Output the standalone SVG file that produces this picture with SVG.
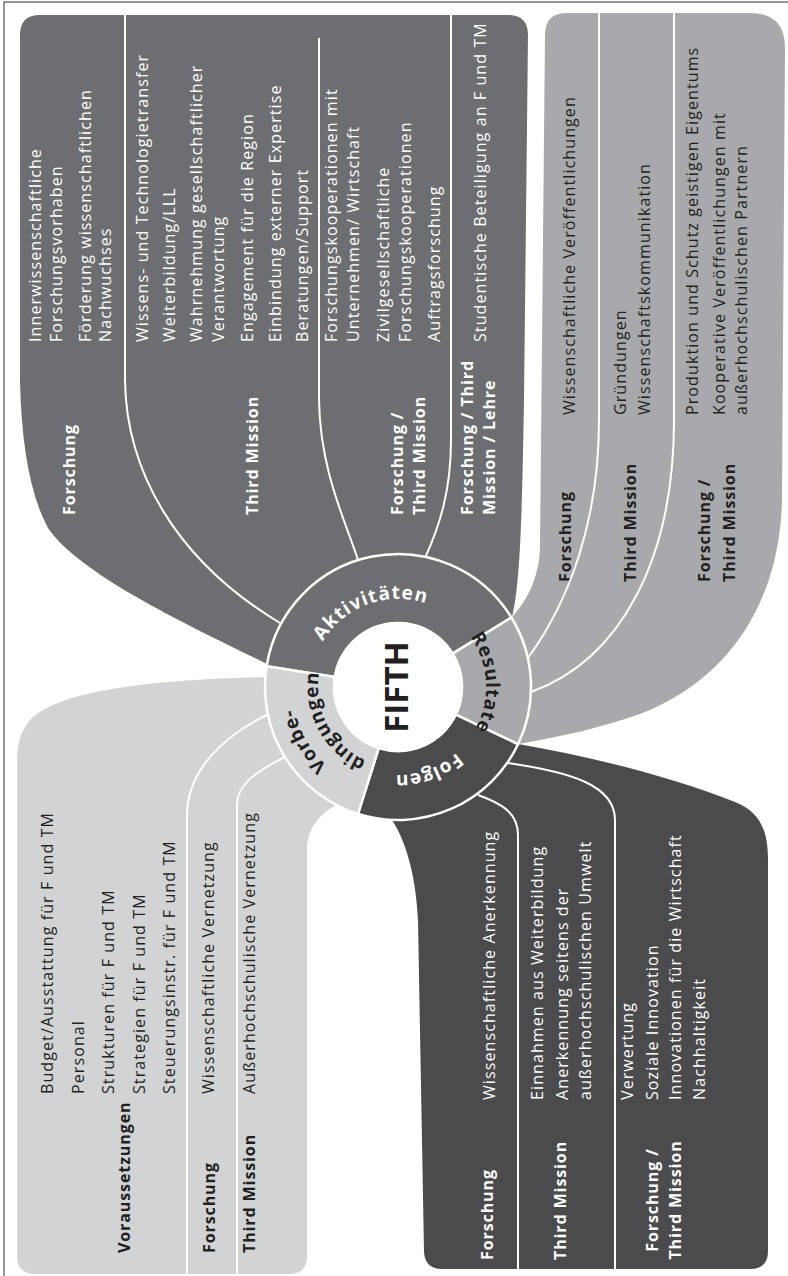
<svg xmlns="http://www.w3.org/2000/svg" width="788" height="1276" viewBox="0 0 788 1276">
<style>
.it{font-family:"Open Sans","Liberation Sans",sans-serif;font-size:16px;letter-spacing:1.1px}
.lb{font-family:"Open Sans","Liberation Sans",sans-serif;font-size:16px;font-weight:700;letter-spacing:0.9px}
.rl{font-family:"Open Sans","Liberation Sans",sans-serif;font-size:19px;font-weight:700;letter-spacing:0.8px}
.w{fill:#ffffff}
.d{fill:#231f20}
.dv{fill:none;stroke:#ffffff;stroke-width:2}
.ring{stroke:#ffffff;stroke-width:2.5;stroke-linejoin:round}
.akt{fill:#6d6e71}
.res{fill:#a7a9ac}
.fol{fill:#4b4b4d}
.vor{fill:#d1d3d4}
</style>
<defs>
<path id="pAkt" d="M 321.79,731 A 88 88 0 1 1 484.66,671.72"/>
<path id="pRes" d="M 378.20,601.26 A 88 88 0 1 1 387.28,774.34"/>
<path id="pFol" d="M 474.21,643 A 88 88 0 1 1 311.34,702.28"/>
<path id="pVo1" d="M 466.14,768.20 A 106 106 0 1 1 361.75,587.39"/>
<path id="pVo2" d="M 447.25,750.04 A 80 80 0 1 1 373.28,610.92"/>
</defs>
<rect x="4" y="2" width="800" height="1290" fill="none" stroke="#505050" stroke-width="1.2"/>

<g id="aktivitaeten">
<path class="akt" d="M 267,664 C 190,626 80,575 48,528 Q 22,480 20,380 L 20,35 Q 20,15 40,15 L 508,15 Q 528,15 528,35 L 524,400 C 522,520 520,585 512,617 L 398,687 Z"/>
<g transform="translate(0,1276) rotate(-90)">
<text class="it w" x="934" y="41">Innerwissenschaftliche</text>
<text class="it w" x="934" y="61.5">Forschungsvorhaben</text>
<text class="it w" x="934" y="91">Förderung wissenschaftlichen</text>
<text class="it w" x="934" y="110.5">Nachwuchses</text>
<text class="it w" x="934" y="148">Wissens- und Technologietransfer</text>
<text class="it w" x="934" y="175">Weiterbildung/LLL</text>
<text class="it w" x="934" y="201.5">Wahrnehmung gesellschaftlicher</text>
<text class="it w" x="934" y="224">Verantwortung</text>
<text class="it w" x="934" y="253">Engagement für die Region</text>
<text class="it w" x="934" y="281">Einbindung externer Expertise</text>
<text class="it w" x="934" y="308">Beratungen/Support</text>
<text class="it w" x="934" y="337">Forschungskooperationen mit</text>
<text class="it w" x="934" y="359">Unternehmen/ Wirtschaft</text>
<text class="it w" x="934" y="389">Zivilgesellschaftliche</text>
<text class="it w" x="934" y="411">Forschungskooperationen</text>
<text class="it w" x="934" y="440">Auftragsforschung</text>
<text class="it w" x="934" y="486">Studentische Beteiligung an F und TM</text>
<text class="lb w" x="761" y="75">Forschung</text>
<text class="lb w" x="761" y="258">Third Mission</text>
<text class="lb w" x="761" y="403">Forschung /</text>
<text class="lb w" x="761" y="424.5">Third Mission</text>
<text class="lb w" x="761" y="473">Forschung / Third</text>
<text class="lb w" x="761" y="494.5">Mission / Lehre</text>
</g>
</g>

<g id="resultate">
<path class="res" d="M 512,617 C 528,600 540,575 540,545 L 545,35 Q 545,13 567,13 L 750,13 Q 785,13 785,48 L 782,500 C 780,600 730,680 640,714 C 600,728 560,737 518,744 L 398,687 Z"/>
<g transform="translate(0,1276) rotate(-90)">
<text class="it d" x="861" y="574.5">Wissenschaftliche Veröffentlichungen</text>
<text class="it d" x="861" y="626">Gründungen</text>
<text class="it d" x="861" y="649.5">Wissenschaftskommunikation</text>
<text class="it d" x="861" y="697.5">Produktion und Schutz geistigen Eigentums</text>
<text class="it d" x="861" y="724.5">Kooperative Veröffentlichungen mit</text>
<text class="it d" x="861" y="747">außerhochschulischen Partnern</text>
<text class="lb d" x="694" y="571">Forschung</text>
<text class="lb d" x="694" y="636">Third Mission</text>
<text class="lb d" x="694" y="709.5">Forschung /</text>
<text class="lb d" x="694" y="734.5">Third Mission</text>
</g>
</g>

<g id="folgen">
<path class="fol" d="M 392,820 C 408,845 416,880 418,920 L 424,1252 Q 425,1269 442,1269 L 750,1269 Q 768,1269 768,1251 L 768,860 C 768,830 760,812 735,802 C 680,780 600,758 518,744 L 398,687 Z"/>
<g transform="translate(0,1276) rotate(-90)">
<text class="it w" x="176" y="494.5">Wissenschaftliche Anerkennung</text>
<text class="it w" x="176" y="543">Einnahmen aus Weiterbildung</text>
<text class="it w" x="176" y="568">Anerkennung seitens der</text>
<text class="it w" x="176" y="591">außerhochschulischen Umwelt</text>
<text class="it w" x="176" y="633">Verwertung</text>
<text class="it w" x="176" y="658">Soziale Innovation</text>
<text class="it w" x="176" y="681">Innovationen für die Wirtschaft</text>
<text class="it w" x="176" y="704.5">Nachhaltigkeit</text>
<text class="lb w" x="16" y="493">Forschung</text>
<text class="lb w" x="16" y="566">Third Mission</text>
<text class="lb w" x="76" y="658" text-anchor="middle">Forschung /</text>
<text class="lb w" x="76" y="681" text-anchor="middle">Third Mission</text>
</g>
</g>

<g id="vorbedingungen">
<path class="vor" d="M 265,677 C 150,680 60,690 30,720 Q 17,735 17,760 L 17,1256 Q 17,1274 35,1274 L 289,1274 Q 307,1274 307,1256 L 307,850 C 307,830 318,815 336,805 L 398,687 Z"/>
<g transform="translate(0,1276) rotate(-90)">
<text class="it d" x="182" y="53">Budget/Ausstattung für F und TM</text>
<text class="it d" x="182" y="83.5">Personal</text>
<text class="it d" x="182" y="114">Strukturen für F und TM</text>
<text class="it d" x="182" y="145">Strategien für F und TM</text>
<text class="it d" x="182" y="175">Steuerungsinstr. für F und TM</text>
<text class="it d" x="182" y="213.5">Wissenschaftliche Vernetzung</text>
<text class="it d" x="182" y="255">Außerhochschulische Vernetzung</text>
<text class="lb d" x="23" y="130">Voraussetzungen</text>
<text class="lb d" x="23" y="214.5">Forschung</text>
<text class="lb d" x="23" y="255">Third Mission</text>
</g>
</g>

<g id="dividers">
<path class="dv" d="M 125,15 L 125,380 C 126,470 175,560 280,623"/>
<path class="dv" d="M 319,38 L 319,400 C 320,470 345,520 358,560"/>
<path class="dv" d="M 451,15 L 451,440 C 451,490 440,525 425,558"/>
<path class="dv" d="M 599,13 L 599,420 C 599,520 570,600 528,658"/>
<path class="dv" d="M 674,13 L 674,420 C 674,560 620,660 531,692"/>
<path class="dv" d="M 267,715 C 225,735 187,770 187,815 L 187,1274"/>
<path class="dv" d="M 285,757 C 255,772 237,785 237,805 L 237,1274"/>
<path class="dv" d="M 478,795 C 500,803 518,812 518,835 L 518,1269"/>
<path class="dv" d="M 508,763 C 570,772 615,785 615,820 L 615,1269"/>
</g>

<g id="hub">
<path class="ring akt" d="M 266.64,666.19 A 133 133 0 0 1 511.40,617.51 L 452.57,653.56 A 64 64 0 0 0 334.79,676.99 Z"/>
<path class="ring res" d="M 511.40,617.51 A 133 133 0 0 1 518.04,744.26 L 455.77,714.55 A 64 64 0 0 0 452.57,653.56 Z"/>
<path class="ring fol" d="M 518.04,744.26 A 133 133 0 0 1 358.01,813.84 L 378.75,748.04 A 64 64 0 0 0 455.77,714.55 Z"/>
<path class="ring vor" d="M 358.01,813.84 A 133 133 0 0 1 266.64,666.19 L 334.79,676.99 A 64 64 0 0 0 378.75,748.04 Z"/>
<circle cx="398" cy="687" r="64" fill="#ffffff" stroke="#ffffff" stroke-width="2"/>
<text class="rl w" style="letter-spacing:1.1px"><textPath href="#pAkt" startOffset="50%" text-anchor="middle">Aktivitäten</textPath></text>
<text class="rl d"><textPath href="#pRes" startOffset="50%" text-anchor="middle">Resultate</textPath></text>
<text class="rl w"><textPath href="#pFol" startOffset="50%" text-anchor="middle">Folgen</textPath></text>
<text class="rl d"><textPath href="#pVo1" startOffset="50%" text-anchor="middle">Vorbe-</textPath></text>
<text class="rl d"><textPath href="#pVo2" startOffset="50%" text-anchor="middle">dingungen</textPath></text>
<text transform="translate(408,687) rotate(-90)" text-anchor="middle" style="font-family:'Open Sans','Liberation Sans',sans-serif;font-size:33px;font-weight:700;fill:#231f20">FIFTH</text>
</g>
</svg>
